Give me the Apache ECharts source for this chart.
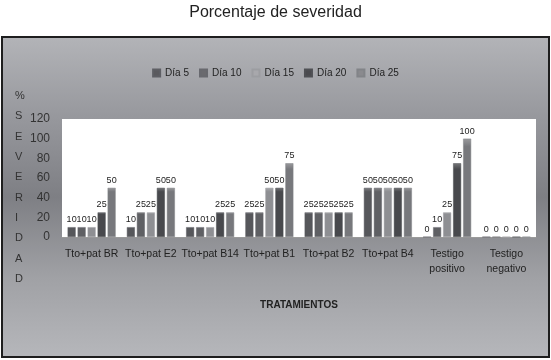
<!DOCTYPE html>
<html><head><meta charset="utf-8">
<script src="https://cdn.jsdelivr.net/npm/echarts@6/dist/echarts.min.js"></script>
<style>html,body{margin:0;padding:0;background:#fff}#c{width:551px;height:360px}</style>
</head><body><div id="c"></div>
<script>
const categories = ['Tto+pat BR','Tto+pat E2','Tto+pat B14','Tto+pat B1','Tto+pat B2','Tto+pat B4','Testigo\npositivo','Testigo\nnegativo'];
const seriesNames = ['Día 5','Día 10','Día 15','Día 20','Día 25'];
const dia5  = [10, 10, 10, 25, 25, 50, 0, 0];
const dia10 = [10, 25, 10, 25, 25, 50, 10, 0];
const dia15 = [10, 25, 10, 50, 25, 50, 25, 0];
const dia20 = [25, 50, 25, 50, 25, 50, 75, 0];
const dia25 = [50, 50, 25, 75, 25, 50, 100, 0];
const yTicks = [0, 20, 40, 60, 80, 100, 120];
const colors = ['#56575b','#5f6064','#8e8f93','#48494d','#77787c'];
const legendColors = ['#5a5a5e','#6a6a6e','#a8a8ac','#4a4a4e','#8a8a8e'];
const allData = [dia5, dia10, dia15, dia20, dia25];
const FONT = "'Liberation Sans',Arial,sans-serif";

const chart = echarts.init(document.getElementById('c'), null, {renderer:'canvas'});
const series = allData.map((d, i) => ({
  name: seriesNames[i], type: 'bar', data: d, barWidth: 8, barGap: '25%',
  itemStyle: {
    color: new echarts.graphic.LinearGradient(0,0,0,1,[
      {offset:0, color: echarts.color.lift(colors[i], 0.25)},
      {offset:0.08, color: colors[i]},
      {offset:1, color: colors[i]}
    ]),
    borderColor: echarts.color.lift(colors[i], -0.1), borderWidth: 0.5
  },
  label: {show: true, position: 'top', distance: 3, color: '#222', fontSize: 9, fontFamily: FONT}
}));
chart.setOption({
  animation: false,
  backgroundColor: '#fff',
  graphic: [
    {type:'rect', z:-10, shape:{x:2, y:37, width:547, height:320},
     style:{fill: new echarts.graphic.LinearGradient(0,0,0,1,[
       {offset:0, color:'#b3b4b8'},{offset:0.25, color:'#97989d'},{offset:0.5, color:'#7e7f84'},
       {offset:0.75, color:'#a0a1a5'},{offset:1, color:'#b6b7bb'}]),
       stroke:'#1e1e1e', lineWidth:2}},
    {type:'text', left:'center', top:5, style:{text:'Porcentaje de severidad', fill:'#222', fontSize:16, fontFamily:FONT}},
    {type:'text', left:15, top:86, style:{text:'%\nS\nE\nV\nE\nR\nI\nD\nA\nD', fill:'#333', fontSize:11, lineHeight:20.3, align:'center', fontFamily:FONT, width:12}}
  ],
  color: colors,
  legend: {
    top: 63, left: 'center', itemWidth: 7, itemHeight: 7, itemGap: 10,
    icon: 'rect',
    textStyle: {color:'#222', fontSize: 10, fontFamily: FONT},
    data: seriesNames.map((n,i)=>({name:n, itemStyle:{color:legendColors[i]}}))
  },
  grid: {left: 62, right: 15, top: 119, bottom: 123, show: true, backgroundColor: '#fff', borderWidth: 0},
  xAxis: {
    type: 'category', data: categories,
    name: 'TRATAMIENTOS', nameLocation: 'middle', nameGap: 63,
    nameTextStyle: {fontWeight:'bold', fontSize: 10, color:'#222', fontFamily: FONT},
    axisLine: {lineStyle:{color:'#9a9a9a', width:1}}, axisTick: {show:false},
    axisLabel: {interval:0, color:'#222', fontSize: 10.5, lineHeight: 15, margin: 10, fontFamily: FONT}
  },
  yAxis: {
    type: 'value', min: 0, max: 120, interval: 20,
    axisLine: {show:false}, axisTick: {show:false}, splitLine: {show:false},
    axisLabel: {color:'#333', fontSize: 12, margin: 12, fontFamily: FONT,
      formatter: v => yTicks.includes(v) ? String(v) : ''}
  },
  series: series
});
</script></body></html>
